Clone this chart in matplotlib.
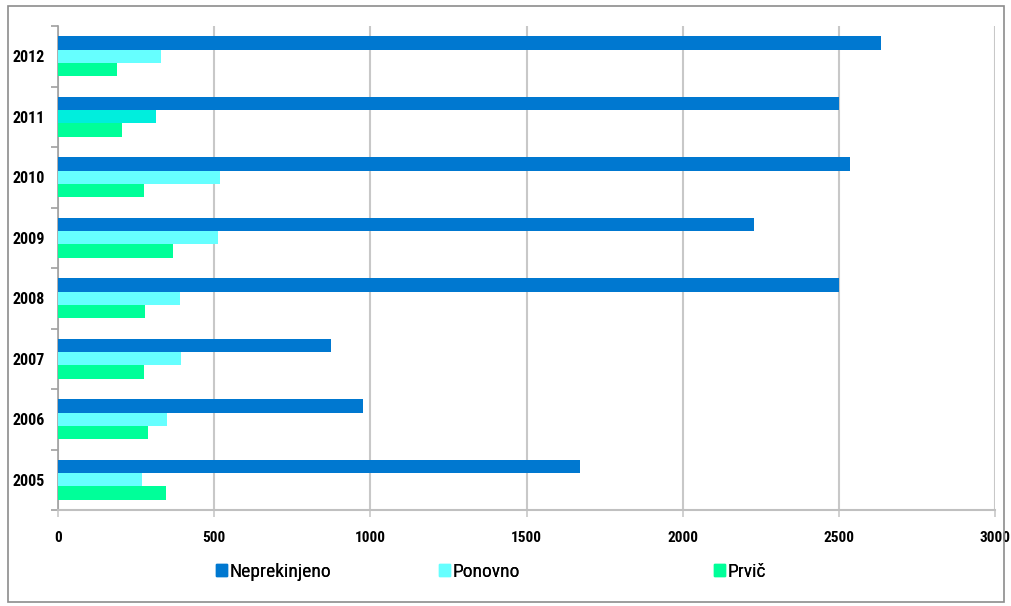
import matplotlib
matplotlib.use("Agg")
import matplotlib.pyplot as plt
from matplotlib.patches import Patch, Rectangle
from matplotlib import font_manager
import numpy as np

years = ["2005", "2006", "2007", "2008", "2009", "2010", "2011", "2012"]
neprekinjeno = [1672, 978, 875, 2500, 2229, 2536, 2500, 2635]
ponovno = [270, 350, 394, 391, 512, 519, 314, 330]
prvic = [346, 288, 276, 279, 368, 276, 205, 189]
series_names = ["Neprekinjeno", "Ponovno", "Prvič"]
colors = ["#0078D0", "#66FFFF", "#00FF99"]
colors_2011 = "#00EEDD"
x_ticks = [0, 500, 1000, 1500, 2000, 2500, 3000]

names = {f.name for f in font_manager.fontManager.ttflist}
def pick(cands):
    for c in cands:
        if c in names:
            return c
    return "DejaVu Sans"
narrow = pick(["Liberation Sans Narrow", "Roboto Condensed", "PT Sans Narrow",
               "Archivo Narrow", "Open Sans Condensed", "Asap Condensed"])

fig = plt.figure(figsize=(10.11, 6.06), dpi=100)
fig.add_artist(Rectangle((8/1011, 1 - 602/606), 996/1011, 596/606, transform=fig.transFigure,
                         fill=False, edgecolor="#8c8c8c", linewidth=1.2))
ax = fig.add_axes([58/1011, 1 - 510/606, 937/1011, 484/606])

y = np.arange(len(years))
h = 0.222
ax.barh(y + h, neprekinjeno, height=h, color=colors[0], zorder=3)
pon_colors = [colors_2011 if yr == "2011" else colors[1] for yr in years]
ax.barh(y, ponovno, height=h, color=pon_colors, zorder=3)
ax.barh(y - h, prvic, height=h, color=colors[2], zorder=3)

ax.set_xlim(0, 3000)
ax.set_ylim(-0.5, len(years) - 0.5)
ax.set_xticks(x_ticks)
ax.set_xticklabels([str(t) for t in x_ticks], fontsize=11, fontweight="bold",
                   family=[narrow, "DejaVu Sans"], fontstretch="condensed")
ax.xaxis.grid(True, color="#c8c8c8", linewidth=1.5, zorder=0)
ax.set_yticks(np.arange(-0.5, len(years), 1.0))
ax.set_yticklabels([])
ax.set_yticks(y, minor=True)
ax.set_yticklabels(years, minor=True, fontsize=11.5, fontweight="bold",
                   family=[narrow, "DejaVu Sans"], fontstretch="condensed")
ax.tick_params(axis="y", which="minor", length=0, pad=9.5)
ax.tick_params(axis="y", which="major", length=5, color="#a0a0a0", width=1.2)
ax.tick_params(axis="x", length=5, color="#c8c8c8", width=1.2, pad=10)
for s in ["top", "right"]:
    ax.spines[s].set_visible(False)
ax.spines["left"].set_color("#a0a0a0")
ax.spines["left"].set_linewidth(1.2)
ax.spines["bottom"].set_color("#c0c0c0")
ax.spines["bottom"].set_linewidth(1.5)

legend_x = [216, 439, 714]
for name, col, lx in zip(series_names, colors, legend_x):
    lg = fig.legend(handles=[Patch(color=col)], labels=[name], loc="center left",
                    bbox_to_anchor=(lx/1011, 1 - 572/606), frameon=False,
                    handlelength=0.55, handleheight=0.6, handletextpad=0.15,
                    borderpad=0, borderaxespad=0,
                    prop={"size": 14, "family": [narrow, "DejaVu Sans"], "stretch": "condensed"})
    fig.add_artist(lg)

fig.savefig("out.png", dpi=100)
